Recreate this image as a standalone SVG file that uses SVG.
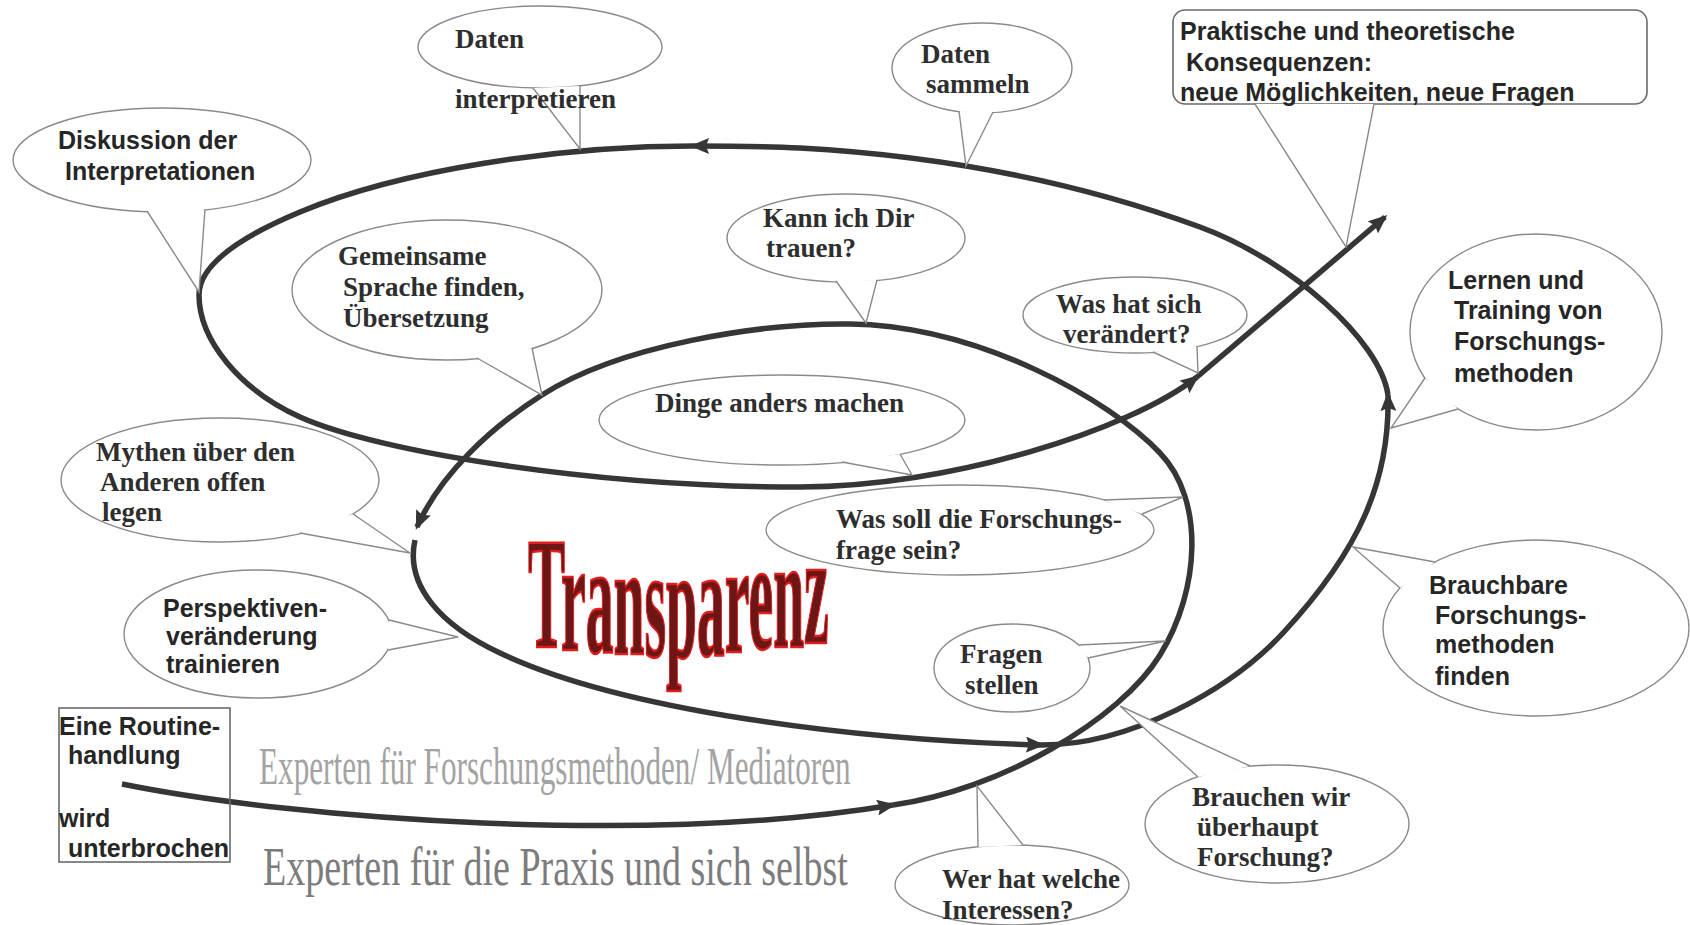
<svg xmlns="http://www.w3.org/2000/svg" width="1690" height="925" viewBox="0 0 1690 925">
<style>
.sp{fill:none;stroke:#363636;stroke-width:5.5}
.co{fill:#fff;stroke:#8a8a8a;stroke-width:1.4}
.bx{fill:#fff;stroke:#6a6a6a;stroke-width:1.6}
.ts{font-family:"Liberation Serif","DejaVu Serif",serif;font-weight:bold;font-size:27px;fill:#2e2e2e}
.ta{font-family:"Liberation Sans",Arial,sans-serif;font-weight:bold;font-size:25px;fill:#262626}
.ex{font-family:"Liberation Serif","DejaVu Serif",serif}
</style>
<defs>
<marker id="ah" viewBox="0 0 19 16" refX="16" refY="8" markerWidth="19" markerHeight="16" markerUnits="userSpaceOnUse" orient="auto"><path d="M0,0 L19,8 L0,16 L3,8 z" fill="#363636"/></marker>
</defs>
<rect width="1690" height="925" fill="#fff"/>

<g id="background-labels">
<text class="ex" transform="translate(259,784) scale(0.6,1)" x="0" y="0" font-size="52" fill="#a3a3a3">Experten für Forschungsmethoden/ Mediatoren</text>
<text class="ex" transform="translate(263,885) scale(0.704,1)" x="0" y="0" font-size="54" fill="#7c7c7c">Experten für die Praxis und sich selbst</text>
<text id="transparenz" transform="translate(528,647) scale(0.352,1)" x="0" y="0" dy="0 3 2 2 2 1 -2 -3 -3 -2 -4" font-family="'Liberation Serif','DejaVu Serif',serif" font-weight="bold" font-size="158" fill="#6e1616" stroke="#e01c1c" stroke-width="2.5">Transparenz</text>
</g>

<g id="connectors">
<path class="sp" marker-end="url(#ah)" d="M122,784 C300,820 650,845 893,805"/>
<path class="sp" marker-end="url(#ah)" d="M893,805 C1000,790 1120,720 1160,655 C1200,590 1205,500 1160,453 C1110,400 980,326 850,324 C760,323 620,345 542,395 C490,428 440,475 417,527"/>
<path class="sp" marker-end="url(#ah)" d="M415,540 C405,585 440,625 500,653 C620,710 850,740 1042,745"/>
<path class="sp" marker-end="url(#ah)" d="M1042,745 C1130,745 1230,690 1283,633 C1360,550 1390,480 1388,395"/>
<path class="sp" marker-end="url(#ah)" d="M1388,395 C1380,340 1290,260 1200,227 C1110,194 980,158 800,148 C760,146 720,146 693,146"/>
<path class="sp" marker-end="url(#ah)" d="M693,146 C560,146 400,170 300,212 C240,237 199,265 199,295 C199,340 240,390 300,417 C380,453 600,487 800,487 C950,487 1130,430 1197,377"/>
<path class="sp" marker-end="url(#ah)" d="M1197,377 L1385,217"/>
</g>

<g id="n-daten-interpretieren">
<ellipse class="co" cx="540" cy="47" rx="122" ry="41"/>
<path class="co" d="M533,88 L580,149 L580,86"/>
<text class="ts" x="455" y="48">Daten</text>
<text class="ts" x="455" y="108">interpretieren</text>
</g>

<g id="n-daten-sammeln">
<ellipse class="co" cx="982" cy="68" rx="90" ry="45"/>
<path class="co" d="M959,111 L966,166 L993,112"/>
<text class="ts" x="921" y="63">Daten</text>
<text class="ts" x="926" y="93">sammeln</text>
</g>

<g id="n-diskussion">
<ellipse class="co" cx="162" cy="160" rx="149" ry="52"/>
<path class="co" d="M147,211 L199,292 L205,209"/>
<text class="ta" x="58" y="149">Diskussion der</text>
<text class="ta" x="65" y="180">Interpretationen</text>
</g>

<g id="n-gemeinsame-sprache">
<ellipse class="co" cx="447" cy="290" rx="155" ry="70"/>
<path class="co" d="M477,358 L542,395 L532,348"/>
<text class="ts" x="338" y="265">Gemeinsame</text>
<text class="ts" x="343" y="296">Sprache finden,</text>
<text class="ts" x="343" y="327">Übersetzung</text>
</g>

<g id="n-kann-ich-dir-trauen">
<ellipse class="co" cx="846" cy="238" rx="119" ry="44"/>
<path class="co" d="M836,281 L866,323 L877,280"/>
<text class="ts" x="763" y="227">Kann ich Dir</text>
<text class="ts" x="766" y="257">trauen?</text>
</g>

<g id="n-was-hat-sich-veraendert">
<ellipse class="co" cx="1135" cy="315" rx="112" ry="38"/>
<path class="co" d="M1153,352 L1198,373 L1197,346"/>
<text class="ts" x="1056" y="313">Was hat sich</text>
<text class="ts" x="1063" y="343">verändert?</text>
</g>

<g id="n-dinge-anders-machen">
<ellipse class="co" cx="782" cy="420" rx="183" ry="45"/>
<path class="co" d="M842,462 L912,475 L900,454"/>
<text class="ts" x="655" y="412">Dinge anders machen</text>
</g>

<g id="n-mythen">
<ellipse class="co" cx="220" cy="480" rx="159" ry="62"/>
<path class="co" d="M353,514 L410,553 L300,533"/>
<text class="ts" x="96" y="461">Mythen über den</text>
<text class="ts" x="100" y="491">Anderen offen</text>
<text class="ts" x="102" y="521">legen</text>
</g>

<g id="n-perspektiven">
<ellipse class="co" cx="258" cy="634" rx="134" ry="64"/>
<path class="co" d="M389,620 L458,637 L388,650"/>
<text class="ta" x="163" y="617">Perspektiven-</text>
<text class="ta" x="166" y="645">veränderung</text>
<text class="ta" x="166" y="673">trainieren</text>
</g>

<g id="n-was-soll-die-forschungsfrage">
<ellipse class="co" cx="960" cy="530" rx="194" ry="45"/>
<path class="co" d="M1104,500 L1183,497 L1142,514"/>
<text class="ts" x="836" y="528">Was soll die Forschungs-</text>
<text class="ts" x="836" y="559">frage sein?</text>
</g>

<g id="n-fragen-stellen">
<ellipse class="co" cx="1012" cy="668" rx="78" ry="44"/>
<path class="co" d="M1078,645 L1166,641 L1088,658"/>
<text class="ts" x="960" y="663">Fragen</text>
<text class="ts" x="965" y="694">stellen</text>
</g>

<g id="n-lernen-training">
<ellipse class="co" cx="1536" cy="332" rx="126" ry="98"/>
<path class="co" d="M1425,378 L1391,428 L1458,409"/>
<text class="ta" x="1448" y="289">Lernen und</text>
<text class="ta" x="1454" y="319">Training von</text>
<text class="ta" x="1454" y="350">Forschungs-</text>
<text class="ta" x="1454" y="382">methoden</text>
</g>

<g id="n-brauchbare-methoden">
<ellipse class="co" cx="1536" cy="628" rx="153" ry="88"/>
<path class="co" d="M1400,588 L1353,547 L1435,562"/>
<text class="ta" x="1429" y="594">Brauchbare</text>
<text class="ta" x="1435" y="624">Forschungs-</text>
<text class="ta" x="1435" y="653">methoden</text>
<text class="ta" x="1435" y="685">finden</text>
</g>

<g id="n-brauchen-wir-forschung">
<ellipse class="co" cx="1277" cy="824" rx="132" ry="59"/>
<path class="co" d="M1198,777 L1120,706 L1250,766"/>
<text class="ts" x="1192" y="806">Brauchen wir</text>
<text class="ts" x="1197" y="836">überhaupt</text>
<text class="ts" x="1197" y="866">Forschung?</text>
</g>

<g id="n-wer-hat-welche-interessen">
<ellipse class="co" cx="1012" cy="885" rx="117" ry="40"/>
<path class="co" d="M978,847 L977,786 L1023,845"/>
<text class="ts" x="942" y="888">Wer hat welche</text>
<text class="ts" x="942" y="919">Interessen?</text>
</g>

<g id="n-konsequenzen">
<rect class="bx" x="1173" y="10" width="474" height="94" rx="12"/>
<path class="co" d="M1255,104 L1346,247 L1374,104"/>
<text class="ta" x="1180" y="40">Praktische und theoretische</text>
<text class="ta" x="1186" y="71">Konsequenzen:</text>
<text class="ta" x="1180" y="101">neue Möglichkeiten, neue Fragen</text>
</g>

<g id="n-routine">
<rect x="59" y="708" width="171" height="154" fill="none" stroke="#6a6a6a" stroke-width="1.6"/>
<text class="ta" x="59" y="735">Eine Routine-</text>
<text class="ta" x="68" y="764">handlung</text>
<text class="ta" x="59" y="827">wird</text>
<text class="ta" x="68" y="857">unterbrochen</text>
</g>
</svg>
